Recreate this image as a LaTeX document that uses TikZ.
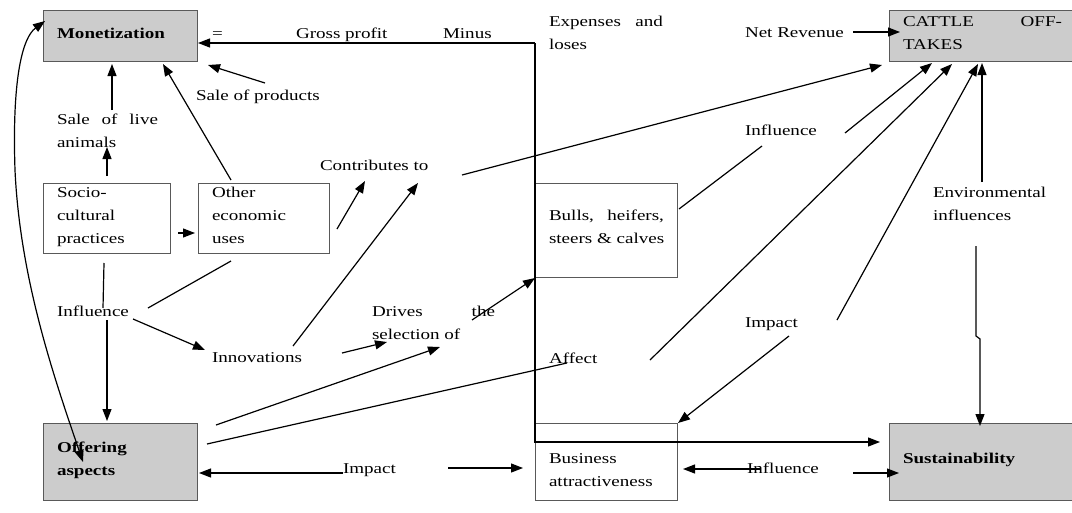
\documentclass[tikz,border=0pt]{standalone}
\usepackage{fontspec}
\setmainfont[FakeStretch=1.27]{Liberation Serif}
\usetikzlibrary{arrows.meta}
\begin{document}
\begin{tikzpicture}[x=1pt,y=-1pt,
  every node/.style={font=\fontsize{15}{18}\selectfont, inner sep=0pt, outer sep=0pt},
  lbl/.style={anchor=base west},
  gbox/.style={draw=black!65, fill=black!20, line width=0.9pt, anchor=north west},
  wbox/.style={draw=black!65, fill=white, line width=0.9pt, anchor=north west},
  conn/.style={line width=1.2pt},
  arr/.style={conn, -{Triangle[length=12pt,width=9pt]}},
  darr/.style={conn, {Triangle[length=12pt,width=9pt]}-{Triangle[length=12pt,width=9pt]}},
]
\useasboundingbox (0,0) rectangle (1072,512);
% boxes
\node[gbox, minimum width=154pt, minimum height=51pt] (mon) at (43,10) {};
\node[gbox, minimum width=184pt, minimum height=51pt] (cat) at (889,10) {};
\node[wbox, minimum width=127pt, minimum height=70pt] (soc) at (43,183) {};
\node[wbox, minimum width=131pt, minimum height=70pt] (oth) at (198,183) {};
\node[wbox, minimum width=142pt, minimum height=94pt] (bul) at (535,183) {};
\node[gbox, minimum width=154pt, minimum height=77pt] (off) at (43,423) {};
\node[wbox, minimum width=142pt, minimum height=77pt] (bus) at (535,423) {};
\node[gbox, minimum width=184pt, minimum height=77pt] (sus) at (889,423) {};
% texts
\node[lbl] (tmon) at (57,38) {\textbf{Monetization}};
\node[lbl] (teq) at (212,38) {=};
\node[lbl] (tgp) at (296,38) {Gross profit};
\node[lbl] (tmin) at (443,38) {Minus};
\node[lbl] (texp1) at (549,26) {\makebox[114pt][s]{Expenses and}};
\node[lbl] (texp2) at (549,49) {loses};
\node[lbl] (tnet) at (745,37) {Net Revenue};
\node[lbl] (tcat1) at (903,26) {\makebox[159pt][s]{CATTLE OFF-}};
\node[lbl] (tcat2) at (903,49) {TAKES};
\node[lbl] (tsp) at (196,100) {Sale of products};
\node[lbl] (tsl1) at (57,124) {\makebox[101pt][s]{Sale of live}};
\node[lbl] (tsl2) at (57,147) {animals};
\node[lbl] (tsoc1) at (57,197) {Socio-};
\node[lbl] (tsoc2) at (57,220) {cultural};
\node[lbl] (tsoc3) at (57,243) {practices};
\node[lbl] (toth1) at (212,197) {Other};
\node[lbl] (toth2) at (212,220) {economic};
\node[lbl] (toth3) at (212,243) {uses};
\node[lbl] (tcon) at (320,170) {Contributes to};
\node[lbl] (tbul1) at (549,220) {\makebox[115pt][s]{Bulls, heifers,}};
\node[lbl] (tbul2) at (549,243) {steers \& calves};
\node[lbl] (tinf1) at (745,135) {Influence};
\node[lbl] (tenv1) at (933,197) {Environmental};
\node[lbl] (tenv2) at (933,220) {influences};
\node[lbl] (tinf2) at (57,316) {Influence};
\node[lbl] (tdr1) at (372,316) {\makebox[123pt][s]{Drives the}};
\node[lbl] (tdr2) at (372,339) {selection of};
\node[lbl] (tinn) at (212,362) {Innovations};
\node[lbl] (taff) at (549,363) {Affect};
\node[lbl] (timp1) at (745,327) {Impact};
\node[lbl] (toff1) at (57,452) {\textbf{Offering}};
\node[lbl] (toff2) at (57,475) {\textbf{aspects}};
\node[lbl] (timp2) at (343,473) {Impact};
\node[lbl] (tbus1) at (549,463) {Business};
\node[lbl] (tbus2) at (549,486) {attractiveness};
\node[lbl] (tinf3) at (747,473) {Influence};
\node[lbl] (tsus) at (903,463) {\textbf{Sustainability}};
% coordinates
\coordinate (gpA) at (535,43);
\coordinate (gpM) at (198,43);
\coordinate (gpB) at (535,442);
\coordinate (gpS) at (880,442);
\coordinate (nr1) at (853,32); \coordinate (nr2) at (900,32);
\coordinate (co1) at (462,175); \coordinate (co2) at (882,65);
\coordinate (bi1) at (679,209); \coordinate (bi2) at (762,146);
\coordinate (ic1) at (845,133); \coordinate (ic2) at (932,63);
\coordinate (af1) at (650,360); \coordinate (af2) at (952,64);
\coordinate (im1) at (837,320); \coordinate (im2) at (978,64);
\coordinate (en1) at (982,182); \coordinate (en2) at (982,63);
\coordinate (es1) at (976,246); \coordinate (es2) at (976,336); \coordinate (es3) at (980,339); \coordinate (es4) at (980,426);
\coordinate (ib1) at (760,469); \coordinate (ib2) at (683,469);
\coordinate (ib3) at (853,473); \coordinate (ib4) at (899,473);
\coordinate (ip1) at (789,336); \coordinate (ip2) at (678,423);
\coordinate (dr1) at (472,320); \coordinate (dr2) at (535,278);
\coordinate (in1) at (342,353); \coordinate (in2) at (387,342);
\coordinate (os1) at (216,425); \coordinate (os2) at (440,347);
\coordinate (oa1) at (207,444); \coordinate (oa2) at (567,363);
\coordinate (il1) at (343,473); \coordinate (il2) at (199,473);
\coordinate (il3) at (448,468); \coordinate (il4) at (523,468);
\coordinate (fo1) at (107,320); \coordinate (fo2) at (107,421);
\coordinate (sf1) at (104,263); \coordinate (sf2) at (103,308);
\coordinate (fe1) at (148,308); \coordinate (fe2) at (231,261);
\coordinate (fi1) at (133,319); \coordinate (fi2) at (205,350);
\coordinate (ic3) at (293,346); \coordinate (ic4) at (418,183);
\coordinate (oc1) at (337,229); \coordinate (oc2) at (365,181);
\coordinate (so1) at (178,233); \coordinate (so2) at (195,233);
\coordinate (sa1) at (107,176); \coordinate (sa2) at (107,147);
\coordinate (lm1) at (112,110); \coordinate (lm2) at (112,64);
\coordinate (om1) at (231,180); \coordinate (om2) at (163,64);
\coordinate (pm1) at (265,83); \coordinate (pm2) at (208,65);
\coordinate (cv1) at (45,21); \coordinate (cv2) at (83,462);
% connectors
\draw[arr] (gpA) -- (gpM);
\draw[arr] (gpA) -- (gpB) -- (gpS);
\draw[arr] (nr1) -- (nr2);
\draw[arr] (co1) -- (co2);
\draw[conn] (bi1) -- (bi2);
\draw[arr] (ic1) -- (ic2);
\draw[arr] (af1) -- (af2);
\draw[arr] (im1) -- (im2);
\draw[arr] (en1) -- (en2);
\draw[arr] (es1) -- (es2) -- (es3) -- (es4);
\draw[arr] (ib1) -- (ib2);
\draw[arr] (ib3) -- (ib4);
\draw[arr] (ip1) -- (ip2);
\draw[arr] (dr1) -- (dr2);
\draw[arr] (in1) -- (in2);
\draw[arr] (os1) -- (os2);
\draw[conn] (oa1) -- (oa2);
\draw[arr] (il1) -- (il2);
\draw[arr] (il3) -- (il4);
\draw[arr] (fo1) -- (fo2);
\draw[conn] (sf1) -- (sf2);
\draw[conn] (fe1) -- (fe2);
\draw[arr] (fi1) -- (fi2);
\draw[arr] (ic3) -- (ic4);
\draw[arr] (oc1) -- (oc2);
\draw[arr] (so1) -- (so2);
\draw[arr] (sa1) -- (sa2);
\draw[arr] (lm1) -- (lm2);
\draw[arr] (om1) -- (om2);
\draw[arr] (pm1) -- (pm2);
\draw[darr] (cv1) .. controls (22,38) and (12,80) .. (15,170) .. controls (20,280) and (55,380) .. (cv2);
\end{tikzpicture}
\end{document}
